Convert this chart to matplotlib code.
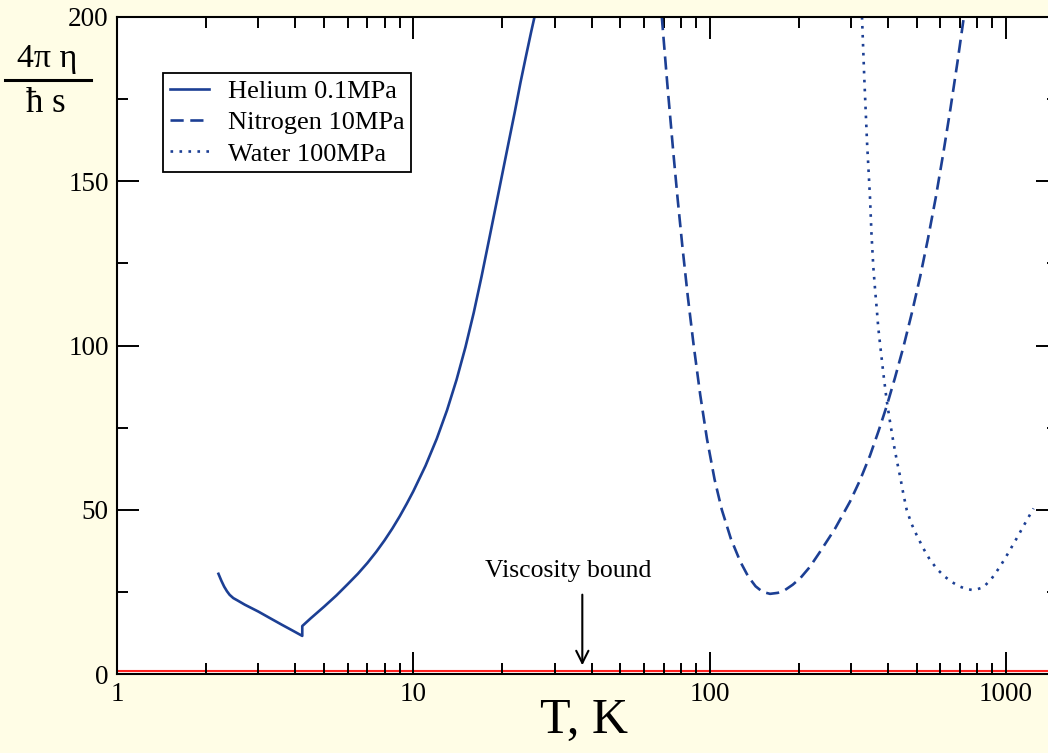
import numpy as np
import matplotlib
matplotlib.use('Agg')
import matplotlib.pyplot as plt
from matplotlib.lines import Line2D
from matplotlib.ticker import LogLocator, FixedLocator, NullFormatter

# --- data (T in K, 4*pi*eta/(hbar*s)) ---
helium_T = [2.2, 2.25, 2.3, 2.35, 2.4, 2.47, 2.55, 2.7, 3.0, 3.3, 3.6, 3.9, 4.22,
            4.22, 4.5, 5.0, 5.5, 6.0, 6.5, 7.0, 7.5, 8.0, 8.5, 9.0, 9.5, 10.0, 11.0,
            12.0, 13.0, 14.0, 15.0, 16.0, 17.0, 18.0, 19.0, 20.0, 21.0, 22.0, 23.0,
            24.0, 25.0, 25.8]
helium_v = [30.5, 28.4, 26.6, 25.2, 24.1, 23.1, 22.4, 21.1, 19.0, 16.9, 15.0, 13.3, 11.6,
            14.6, 16.9, 20.5, 23.9, 27.3, 30.5, 33.8, 37.2, 40.7, 44.3, 48.0, 51.8, 55.6, 63.4,
            71.6, 80.3, 89.6, 99.5, 110.0, 121.0, 132.0, 142.5, 152.5, 162.0, 171.0, 180.0,
            188.0, 195.5, 201.0]

nitrogen_T = [69.0, 72.0, 75.5, 78.0, 81.0, 84.5, 88.4, 93.0, 98.0, 104.0,
              110.0, 118.0, 127.0, 135.0, 143.0, 151.0, 160.0, 170.0, 180.0, 191.0, 203.0,
              218.0, 236.0, 265.0, 298.0, 322.0, 348.0, 372.0, 396.0, 422.0, 451.0, 482.0,
              514.0, 546.0, 580.0, 615.0, 650.0, 686.0, 723.0]
nitrogen_v = [200.0, 179.7, 158.5, 144.8, 130.0, 114.7, 100.0, 85.0, 71.6, 59.2,
              50.0, 41.2, 34.2, 29.7, 26.7, 25.0, 24.4, 24.7, 25.6, 27.2, 29.3,
              32.6, 37.2, 44.2, 52.5, 59.0, 66.5, 74.0, 81.5, 90.0, 99.5, 110.0,
              121.0, 132.5, 145.0, 158.5, 172.0, 186.0, 200.5]

water_T = [327.0, 333.0, 340.0, 348.0, 352.0, 357.0, 362.0, 367.0, 371.0, 376.0, 386.0,
           396.0, 407.0, 418.0, 429.0, 440.0, 451.0, 463.0, 480.0, 500.0, 527.0, 555.0,
           588.0, 623.0, 660.0, 700.0, 735.0, 767.0, 800.0, 840.0, 895.0, 956.0, 1020.0,
           1088.0, 1160.0, 1240.0]
water_v = [200.0, 181.0, 162.0, 145.0, 134.0, 124.0, 117.0, 110.8, 105.5, 100.7, 91.5,
           83.4, 76.5, 70.2, 64.8, 60.0, 54.8, 49.9, 45.8, 42.3, 38.2, 34.7,
           31.8, 29.6, 27.9, 26.6, 25.9, 25.6, 25.8, 26.4, 29.0, 32.7, 36.9,
           41.3, 45.8, 50.4]

bound_value = 1.0
arrow_T = 37.2

labels = ['Helium 0.1MPa', 'Nitrogen 10MPa', 'Water 100MPa']

LINE = '#1c3f94'
BG = '#fffde6'

plt.rcParams['font.family'] = ['Liberation Serif', 'DejaVu Serif']

fig = plt.figure(figsize=(10.48, 7.53), dpi=100)
fig.patch.set_facecolor(BG)
ax = fig.add_axes([117 / 1048, 1 - 674 / 753, 941 / 1048, 657 / 753])
ax.set_facecolor('white')

ax.plot(helium_T, helium_v, color=LINE, lw=1.9, label=labels[0])
ax.plot(nitrogen_T, nitrogen_v, color=LINE, lw=1.9, ls=(0, (5, 2.5)), label=labels[1])
ax.plot(water_T, water_v, color=LINE, lw=1.9, ls=(0, (1, 2.4)), label=labels[2])

ax.axhline(bound_value, color='#ff2020', lw=1.5, zorder=1)
ax.annotate('', xy=(arrow_T, 1.8), xytext=(arrow_T, 25),
            arrowprops=dict(arrowstyle='->', lw=1.5, color='k', mutation_scale=22))
ax.text(33.4, 31.5, 'Viscosity bound', ha='center', va='center', fontsize=18.5)

ax.set_xscale('log')
ax.set_xlim(1, 1500)
ax.set_ylim(0, 200)
ax.xaxis.set_major_locator(FixedLocator([1, 10, 100, 1000]))
ax.xaxis.set_major_formatter(plt.FuncFormatter(lambda v, p: f'{v:g}'))
ax.xaxis.set_minor_locator(LogLocator(base=10, subs=np.arange(2, 10)))
ax.xaxis.set_minor_formatter(NullFormatter())
ax.set_yticks([0, 50, 100, 150, 200])
ax.set_yticks([25, 75, 125, 175], minor=True)

ax.tick_params(which='both', direction='in', top=True, right=True, width=1.4,
               labelsize=19.5, colors='k')
ax.tick_params(which='major', length=16, pad=6)
ax.tick_params(which='minor', length=8)
for sp in ax.spines.values():
    sp.set_linewidth(1.5)

ax.set_xlabel('T, K', fontsize=36, va='center')
ax.xaxis.set_label_coords((584 - 117) / 941, (674 - 721) / 657)

# fraction-style y label in the top-left corner
fig.text(47 / 1048, 1 - 67 / 753, '4π η', ha='center', va='baseline', fontsize=24.5)
fig.text(46 / 1048, 1 - 112 / 753, 'ħ s', ha='center', va='baseline', fontsize=25)
fig.add_artist(Line2D([5 / 1048, 91 / 1048], [1 - 80 / 753] * 2, color='k', lw=2.2))

leg = ax.legend(loc='upper left', bbox_to_anchor=(0.049, 0.915), borderaxespad=0,
                fontsize=19, handlelength=1.5, handletextpad=0.7, labelspacing=0.3,
                fancybox=False, framealpha=1, edgecolor='k', borderpad=0.25)
leg.get_frame().set_linewidth(1.3)

fig.savefig('out.png', dpi=100, facecolor=BG)
